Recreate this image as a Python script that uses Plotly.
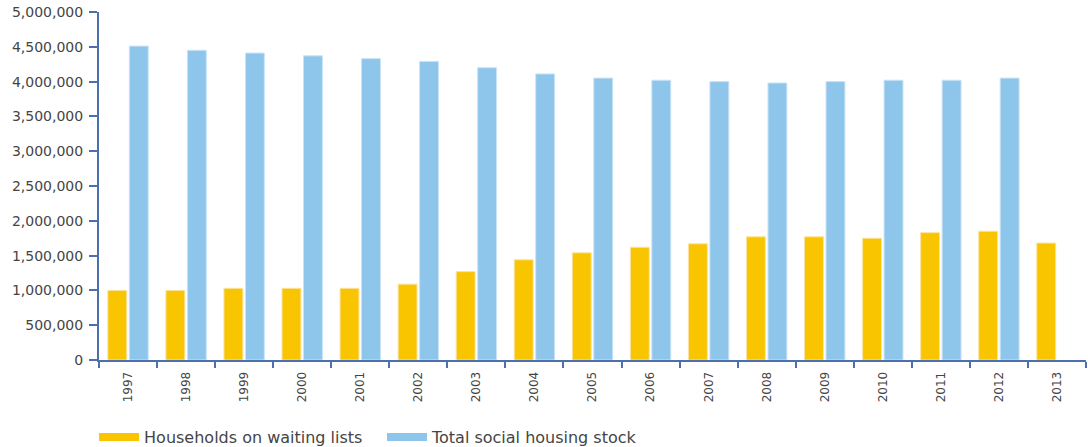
import plotly.graph_objects as go

years = ["1997", "1998", "1999", "2000", "2001", "2002", "2003", "2004", "2005",
         "2006", "2007", "2008", "2009", "2010", "2011", "2012", "2013"]
waiting = [1000000, 1000000, 1030000, 1030000, 1030000, 1090000, 1270000, 1440000, 1540000,
           1620000, 1670000, 1770000, 1770000, 1750000, 1830000, 1850000, 1680000]
stock = [4510000, 4450000, 4410000, 4370000, 4330000, 4290000, 4200000, 4110000, 4050000,
         4020000, 4000000, 3980000, 4000000, 4020000, 4020000, 4050000, None]
y_ticks = [0, 500000, 1000000, 1500000, 2000000, 2500000, 3000000, 3500000, 4000000, 4500000, 5000000]

YELLOW = "#F8C500"
BLUE = "#8EC5EB"
AXIS = "#4E6FAE"
TXT = "#454545"

fig = go.Figure()
fig.add_trace(go.Bar(x=years, y=waiting, name="Households on waiting lists",
                     marker=dict(color=YELLOW, line=dict(color="#FBE3A0", width=1)),
                     showlegend=False))
fig.add_trace(go.Bar(x=years, y=stock, name="Total social housing stock",
                     marker=dict(color=BLUE, line=dict(color="#C9E3F6", width=1)),
                     showlegend=False))
# legend swatches
fig.add_trace(go.Scatter(x=[None], y=[None], mode="lines", name="Households on waiting lists",
                         line=dict(color=YELLOW, width=8), legend="legend"))
fig.add_trace(go.Scatter(x=[None], y=[None], mode="lines", name="Total social housing stock",
                         line=dict(color=BLUE, width=8), legend="legend2"))

leg_common = dict(orientation="h", xanchor="left", yref="container", y=0.022, yanchor="middle",
                  font=dict(size=16, color=TXT), itemwidth=40, bgcolor="rgba(0,0,0,0)")

fig.update_layout(
    width=1088, height=447,
    margin=dict(l=99, r=2, t=12, b=87, autoexpand=False),
    paper_bgcolor="white", plot_bgcolor="white",
    barmode="group", bargap=0.26, bargroupgap=0.12,
    font=dict(family="DejaVu Sans, sans-serif", color=TXT),
    legend=dict(x=-0.005, **leg_common),
    legend2=dict(x=0.2867, **leg_common),
)
fig.update_xaxes(type="category", showline=True, linecolor=AXIS, linewidth=2,
                 ticks="outside", tickson="boundaries", ticklen=6, tickcolor=AXIS, tickwidth=2,
                 tickangle=-90, tickfont=dict(size=12, color=TXT), showgrid=False,
                 ticklabelstandoff=5,
                 range=[-0.5, 16.5], automargin=False)
fig.update_yaxes(range=[0, 5000000], tickvals=y_ticks, tickformat=",d",
                 showline=True, linecolor=AXIS, linewidth=2,
                 ticks="outside", ticklen=8, tickcolor=AXIS, tickwidth=2,
                 tickfont=dict(size=14, color=TXT), showgrid=False, zeroline=False,
                 ticklabelstandoff=3, automargin=False)

fig.write_html("out.html")
